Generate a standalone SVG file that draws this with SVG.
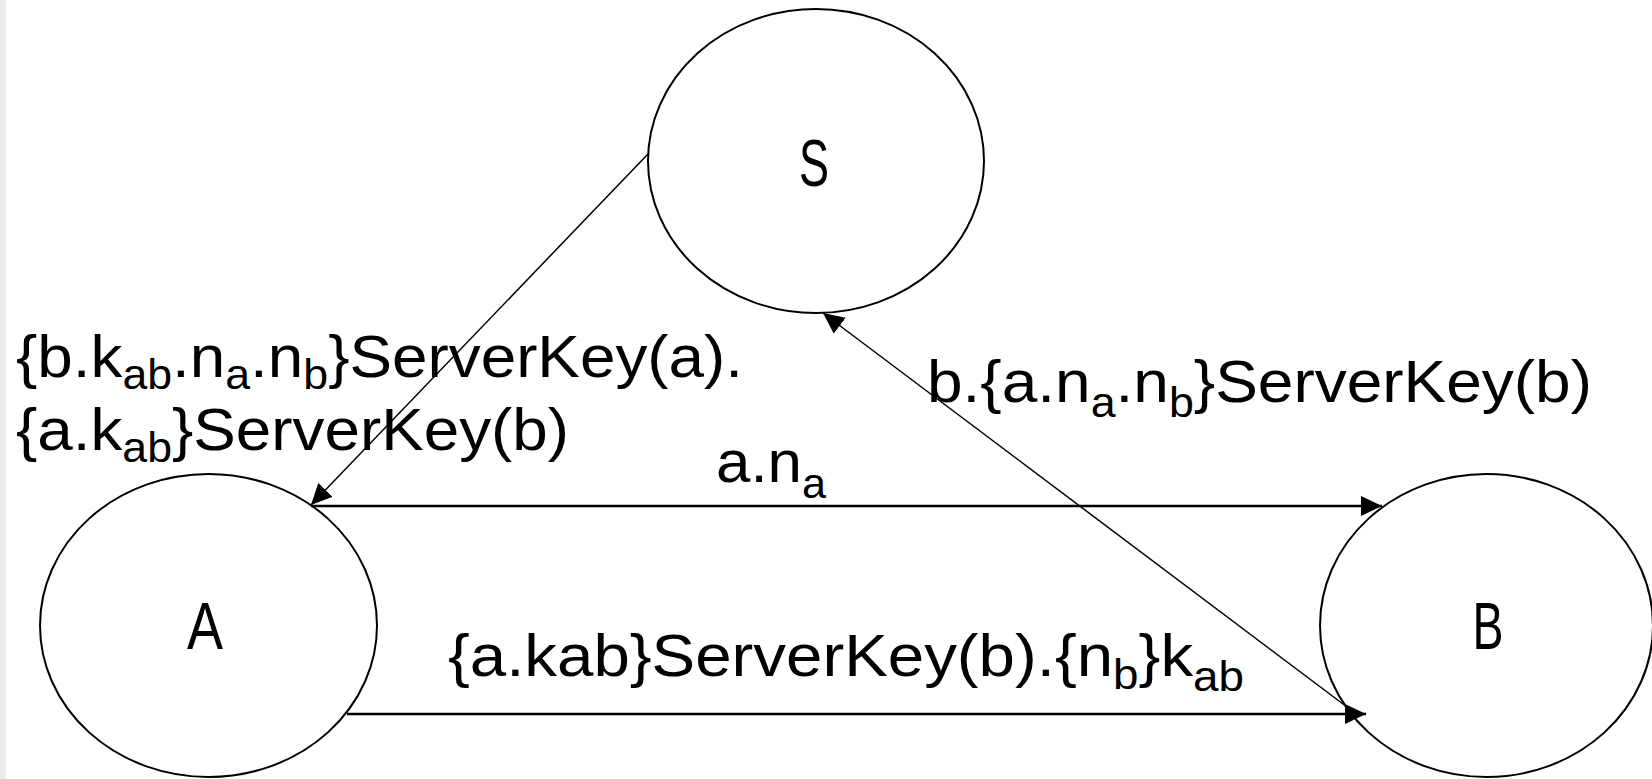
<svg xmlns="http://www.w3.org/2000/svg" width="1652" height="779" viewBox="0 0 1652 779">
<style>
.node{fill:#fff;stroke:#000;stroke-width:2}
.lbl{font-family:"Liberation Sans",Arial,sans-serif;fill:#000}
.nl{font-size:66px;text-anchor:middle}
.el{font-size:60px}
.sub{font-size:42px}
.c{stroke:#000;fill:none}
.h{stroke-width:2.5}
.d{stroke-width:1.5}
</style>
<defs>
<marker id="ah" markerUnits="userSpaceOnUse" markerWidth="22" markerHeight="20" refX="21" refY="10" orient="auto">
<path d="M0,0 L21,10 L0,20 Z" fill="#000"/>
</marker>
</defs>
<rect x="0" y="0" width="1652" height="779" fill="#fff"/>
<rect x="0" y="0" width="6" height="779" fill="#ebebeb"/>
<g id="node-S">
<ellipse class="node" cx="816" cy="161" rx="168" ry="152"/>
<text class="lbl nl" x="814" y="186" textLength="30" lengthAdjust="spacingAndGlyphs">S</text>
</g>
<g id="node-A">
<ellipse class="node" cx="208.5" cy="625.5" rx="168.5" ry="151.5"/>
<text class="lbl nl" x="205" y="649" textLength="36" lengthAdjust="spacingAndGlyphs">A</text>
</g>
<g id="node-B">
<ellipse class="node" cx="1486.5" cy="625.5" rx="166.5" ry="151.5"/>
<text class="lbl nl" x="1488" y="649" textLength="31" lengthAdjust="spacingAndGlyphs">B</text>
</g>
<g id="connectors">
<line class="c d" x1="648" y1="154" x2="311" y2="505" marker-end="url(#ah)"/>
<line class="c h" x1="311" y1="506" x2="1382" y2="506" marker-end="url(#ah)"/>
<line class="c h" x1="347" y1="714" x2="1366" y2="714" marker-end="url(#ah)"/>
<line class="c d" x1="1355" y1="713" x2="823" y2="313" marker-end="url(#ah)"/>
</g>
<g id="labels">
<text class="lbl el" x="16" y="377" textLength="727" lengthAdjust="spacingAndGlyphs">{b.k<tspan class="sub" dy="12">ab</tspan><tspan dy="-12">.n</tspan><tspan class="sub" dy="12">a</tspan><tspan dy="-12">.n</tspan><tspan class="sub" dy="12">b</tspan><tspan dy="-12">}ServerKey(a).</tspan></text>
<text class="lbl el" x="16" y="450" textLength="553" lengthAdjust="spacingAndGlyphs">{a.k<tspan class="sub" dy="12">ab</tspan><tspan dy="-12">}ServerKey(b)</tspan></text>
<text class="lbl el" x="927" y="402" textLength="665" lengthAdjust="spacingAndGlyphs">b.{a.n<tspan class="sub" dy="15">a</tspan><tspan dy="-15">.n</tspan><tspan class="sub" dy="15">b</tspan><tspan dy="-15">}ServerKey(b)</tspan></text>
<text class="lbl el" x="716" y="482" textLength="110" lengthAdjust="spacingAndGlyphs">a.n<tspan class="sub" dy="16">a</tspan></text>
<text class="lbl el" x="448" y="676" textLength="796" lengthAdjust="spacingAndGlyphs">{a.kab}ServerKey(b).{n<tspan class="sub" dy="13">b</tspan><tspan dy="-13">}k</tspan><tspan class="sub" dy="15">ab</tspan></text>
</g>
</svg>
